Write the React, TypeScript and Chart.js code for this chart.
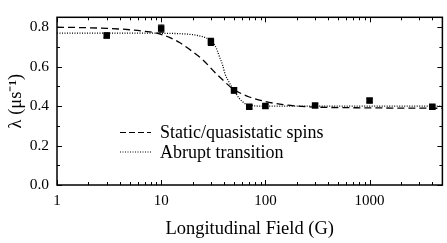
import React, { useEffect, useRef } from 'react';
import { Chart, registerables } from 'chart.js';

Chart.register(...registerables);

// Measured data: longitudinal field (G) vs relaxation rate lambda (us^-1)
const fieldG = [3, 10, 30, 50, 70, 100, 300, 1000, 4000];
const lambdaVals = [0.758, 0.793, 0.725, 0.48, 0.396, 0.4, 0.403, 0.428, 0.396];
const lambdaErr = [0.012, 0.018, 0.018, 0.014, 0.01, 0.01, 0.01, 0.01, 0.01];

// Fit curve: static/quasistatic spins (dashed)
const staticFitX = [1, 2, 3, 5, 7, 9, 12, 15, 20, 25, 33, 40, 48, 60, 70, 100, 150, 200, 300, 1000, 5000];
const staticFitY = [0.8, 0.797, 0.794, 0.787, 0.779, 0.77, 0.748, 0.722, 0.676, 0.635, 0.569, 0.527, 0.49, 0.461, 0.446, 0.423, 0.407, 0.4, 0.395, 0.391, 0.389];

// Fit curve: abrupt transition (dotted)
const abruptFitX = [1, 5, 10, 15, 20, 25, 28, 31, 34, 36, 39, 41, 45, 48, 52, 56, 64, 75, 86, 120, 5000];
const abruptFitY = [0.77, 0.77, 0.769, 0.767, 0.762, 0.752, 0.742, 0.728, 0.69, 0.655, 0.605, 0.563, 0.52, 0.494, 0.465, 0.44, 0.412, 0.403, 0.4, 0.4, 0.4];

const xMajorTicks = [1, 10, 100, 1000];
const xMinorTicks = [2, 3, 4, 5, 6, 7, 8, 9, 20, 30, 40, 50, 60, 70, 80, 90, 200, 300, 400, 500, 600, 700, 800, 900, 2000, 3000, 4000];
const yMajorTicks = [0, 0.2, 0.4, 0.6, 0.8];
const yMinorTicks = [0.1, 0.3, 0.5, 0.7];
const legendLabels = ['Static/quasistatic spins', 'Abrupt transition'];

const SERIF = '"Liberation Serif", "Times New Roman", serif';

const framePlugin = {
  id: 'frameTicksLegend',
  beforeDatasetsDraw(chart: any) {
    const { ctx, scales } = chart;
    const x = scales.x;
    const y = scales.y;
    ctx.save();
    ctx.strokeStyle = '#000';
    ctx.lineWidth = 1.2;
    ctx.setLineDash([]);
    fieldG.forEach((f, i) => {
      const px = x.getPixelForValue(f);
      const y1 = y.getPixelForValue(lambdaVals[i] - lambdaErr[i]);
      const y2 = y.getPixelForValue(lambdaVals[i] + lambdaErr[i]);
      ctx.beginPath();
      ctx.moveTo(px, y1);
      ctx.lineTo(px, y2);
      ctx.moveTo(px - 3, y1);
      ctx.lineTo(px + 3, y1);
      ctx.moveTo(px - 3, y2);
      ctx.lineTo(px + 3, y2);
      ctx.stroke();
    });
    ctx.restore();
  },
  afterDraw(chart: any) {
    const { ctx, chartArea: a, scales } = chart;
    const x = scales.x;
    const y = scales.y;
    ctx.save();
    ctx.strokeStyle = '#000';
    ctx.lineWidth = 1.5;
    ctx.setLineDash([]);
    ctx.strokeRect(a.left, a.top, a.right - a.left, a.bottom - a.top);
    ctx.lineWidth = 1;
    const tick = (vals: number[], len: number) => {
      vals.forEach((v) => {
        const px = Math.round(x.getPixelForValue(v)) + 0.5;
        ctx.beginPath();
        ctx.moveTo(px, a.bottom);
        ctx.lineTo(px, a.bottom - len);
        ctx.moveTo(px, a.top);
        ctx.lineTo(px, a.top + len);
        ctx.stroke();
      });
    };
    const ytick = (vals: number[], len: number) => {
      vals.forEach((v) => {
        const py = Math.round(y.getPixelForValue(v)) + 0.5;
        ctx.beginPath();
        ctx.moveTo(a.left, py);
        ctx.lineTo(a.left + len, py);
        ctx.moveTo(a.right, py);
        ctx.lineTo(a.right - len, py);
        ctx.stroke();
      });
    };
    tick(xMajorTicks, 5);
    tick(xMinorTicks, 3);
    ytick(yMajorTicks, 5);
    ytick(yMinorTicks, 3);

    // legend inside the plot
    ctx.lineWidth = 1.2;
    ctx.setLineDash([6, 3]);
    ctx.beginPath();
    ctx.moveTo(120, 132.5);
    ctx.lineTo(151, 132.5);
    ctx.stroke();
    ctx.setLineDash([1, 1.5]);
    ctx.beginPath();
    ctx.moveTo(120, 152);
    ctx.lineTo(151, 152);
    ctx.stroke();
    ctx.setLineDash([]);
    ctx.fillStyle = '#000';
    ctx.font = `18px ${SERIF}`;
    ctx.textAlign = 'left';
    ctx.textBaseline = 'middle';
    ctx.fillText(legendLabels[0], 160, 133);
    ctx.fillText(legendLabels[1], 160, 153.5);
    ctx.restore();
  },
};

export default function App() {
  const canvasRef = useRef<HTMLCanvasElement | null>(null);

  useEffect(() => {
    if (!canvasRef.current) return;
    const chart = new Chart(canvasRef.current, {
      type: 'scatter',
      data: {
        datasets: [
          {
            label: legendLabels[0],
            data: staticFitX.map((v, i) => ({ x: v, y: staticFitY[i] })),
            showLine: true,
            borderColor: '#000',
            borderWidth: 1.3,
            borderDash: [7, 4],
            pointRadius: 0,
            cubicInterpolationMode: 'monotone',
            fill: false,
          },
          {
            label: legendLabels[1],
            data: abruptFitX.map((v, i) => ({ x: v, y: abruptFitY[i] })),
            showLine: true,
            borderColor: '#000',
            borderWidth: 1.3,
            borderDash: [1, 1.5],
            pointRadius: 0,
            cubicInterpolationMode: 'monotone',
            fill: false,
          },
          {
            label: 'data',
            data: fieldG.map((v, i) => ({ x: v, y: lambdaVals[i] })),
            showLine: false,
            pointStyle: 'rect',
            pointRadius: 4.6,
            backgroundColor: '#000',
            borderColor: '#000',
            borderWidth: 0,
          },
        ],
      },
      options: {
        animation: false,
        responsive: false,
        maintainAspectRatio: false,
        layout: { padding: { top: 1, right: 1, left: 0, bottom: 0 } },
        plugins: {
          legend: { display: false },
          tooltip: { enabled: false },
        },
        scales: {
          x: {
            type: 'logarithmic',
            min: 1,
            max: 5000,
            afterBuildTicks: (s: any) => {
              s.ticks = xMajorTicks.map((v) => ({ value: v }));
            },
            afterFit: (s: any) => {
              s.height = 58;
            },
            grid: { display: false, drawTicks: false },
            border: { display: false },
            ticks: {
              autoSkip: false,
              maxRotation: 0,
              padding: 7,
              color: '#000',
              font: { family: SERIF, size: 15 },
              callback: (v: any) => String(v),
            },
            title: {
              display: true,
              text: 'Longitudinal Field (G)',
              color: '#000',
              font: { family: SERIF, size: 18.5 },
              padding: { top: 0, bottom: 3 },
            },
          },
          y: {
            type: 'linear',
            min: 0,
            max: 0.85,
            afterBuildTicks: (s: any) => {
              s.ticks = yMajorTicks.map((v) => ({ value: v }));
            },
            afterFit: (s: any) => {
              s.width = 57;
            },
            grid: { display: false, drawTicks: false },
            border: { display: false },
            ticks: {
              padding: 8,
              color: '#000',
              font: { family: SERIF, size: 15.5 },
              callback: (v: any) => Number(v).toFixed(1),
            },
            title: {
              display: true,
              text: 'λ (μs⁻¹)',
              color: '#000',
              font: { family: SERIF, size: 18.5 },
              padding: { top: 5, bottom: 0 },
            },
          },
        },
      },
      plugins: [framePlugin],
    } as any);
    return () => chart.destroy();
  }, []);

  return (
    <div style={{ position: 'fixed', left: 0, top: 0, width: 447, height: 243, background: '#fff' }}>
      <canvas ref={canvasRef} width={447} height={243} style={{ display: 'block', width: 447, height: 243 }} />
    </div>
  );
}
